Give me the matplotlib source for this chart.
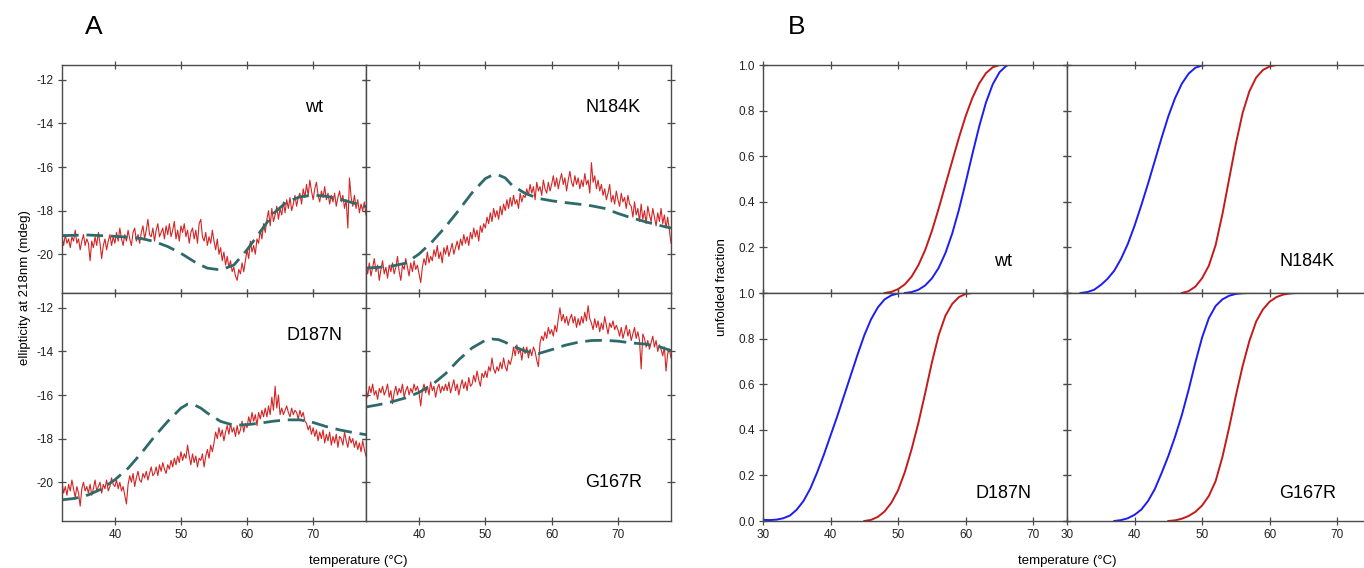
import numpy as np
import matplotlib
matplotlib.use("Agg")
import matplotlib.pyplot as plt

plt.rcParams['font.family'] = ['Liberation Sans', 'DejaVu Sans']
plt.rcParams['axes.unicode_minus'] = False

# ---------------- panel A : CD ellipticity at 218 nm ----------------
variants = ["wt", "N184K", "D187N", "G167R"]

# raw traces, 32..78 degC, evenly spaced
cd_wt = [
    -19.2, -19.6, -19.1, -19.5, -19.3, -19.7, -19.2, -19.4, -18.9, -19.5, -19.3, -19.8, -19.4, -19.1, -19.6, -19.3,
    -19.5, -20.3, -19.4, -19.7, -19.2, -19.6, -19.0, -19.5, -20.2, -19.6, -19.3, -19.8, -19.4, -19.1, -19.6, -19.2,
    -19.5, -19.0, -19.4, -18.8, -19.3, -19.6, -19.1, -19.4, -18.9, -19.3, -19.6, -19.0, -18.8, -19.4, -19.1, -19.5,
    -19.0, -18.7, -19.3, -18.9, -18.4, -19.1, -19.2, -18.8, -19.4, -18.9, -18.6, -19.2, -19.0, -18.8, -19.3, -18.7,
    -19.1, -18.6, -19.2, -18.9, -18.5, -19.3, -18.9, -19.4, -18.7, -19.0, -18.6, -19.2, -18.9, -19.5, -19.0, -18.8,
    -19.3, -18.9, -19.5, -18.6, -18.4, -19.2, -19.4, -19.0, -19.6, -19.2, -19.5, -18.9,
    -19.4, -19.8, -19.3, -20.0, -19.7, -20.3, -19.9, -20.5, -20.1, -20.6, -20.3, -20.8,
    -20.6, -21.0, -21.2, -20.7, -20.9, -20.4, -20.8, -20.3,
    -19.8, -20.2, -19.4, -19.9, -19.6, -20.0, -19.3, -19.5, -18.9, -19.3, -18.6, -19.0,
    -18.4, -18.0, -18.7, -17.9, -18.5, -18.2, -17.8, -18.4,
    -17.9, -18.2, -17.6, -18.1, -17.5, -17.9, -17.4, -18.0, -17.7, -17.3, -17.8, -17.4,
    -17.2, -17.7, -17.0, -17.4, -16.8, -17.3, -16.6, -17.1, -17.5, -17.0, -16.7, -17.3, -17.6, -17.1, -17.4, -16.9,
    -17.5, -17.2, -17.7, -17.3,
    -17.6, -17.2, -17.8, -17.4, -17.1, -17.6, -17.3, -17.9, -17.5, -18.8, -16.5, -17.4, -17.8, -17.3, -17.9, -17.5,
    -18.1, -17.7, -18.0, -17.6, -18.2,
]
cd_n184k = [
    -20.5, -20.9, -20.4, -21.0, -20.6, -20.2, -20.8, -20.5, -21.2, -20.7, -20.3, -20.9, -20.6, -21.1, -20.5, -20.8,
    -20.4, -20.9, -20.6, -20.1, -20.8, -21.2, -20.5, -20.7, -20.2, -20.6, -21.0, -20.4, -20.8, -20.3, -20.7, -20.5,
    -20.9, -21.3, -20.6, -20.2, -20.5, -19.9, -20.4, -20.1,
    -20.3, -19.8, -20.1, -19.6, -20.2, -19.9, -20.4, -19.7, -20.0, -19.6, -20.1, -19.8, -19.5, -20.0, -19.7, -19.4,
    -19.8, -19.3, -19.6, -19.1, -19.5, -19.2, -19.6, -19.0, -19.3, -18.8, -19.2, -18.9, -19.4, -18.7, -19.0, -18.6,
    -18.8, -18.3, -18.6, -18.1, -18.5, -17.9, -18.3, -18.0, -18.4, -17.8, -18.2, -17.7,
    -18.0, -17.5, -17.9, -17.4, -17.8, -17.3, -17.7, -17.5, -17.9, -17.2, -17.6, -17.3,
    -17.4, -17.0, -17.3, -16.8, -17.2, -16.9, -17.5, -16.7, -17.1, -16.9, -17.3, -16.6, -17.0, -17.2, -16.7, -17.1,
    -16.8, -16.4, -16.9, -16.5, -17.0, -16.6, -16.3, -16.8, -16.5, -17.1, -16.6, -16.2, -16.7, -16.9, -16.4, -16.8,
    -16.5, -17.0, -16.6, -16.9, -16.3, -16.8, -16.6, -17.2, -15.8, -16.7, -16.4, -17.0, -16.6, -17.1, -16.8, -17.3,
    -17.0, -17.5, -17.2, -16.8, -17.6, -17.3, -17.7, -17.1, -17.5, -17.8, -17.2, -17.6, -17.4, -17.9, -17.3, -17.7,
    -17.8, -18.3, -17.6, -18.2, -17.9, -18.5, -17.7, -18.4, -18.0, -18.6, -17.8, -18.2, -18.5, -17.9, -18.3, -18.7,
    -18.1, -18.5, -17.9, -18.6, -18.2, -18.8, -18.3, -18.9, -19.5,
]
cd_d187n = [
    -20.0, -20.5, -20.2, -20.6, -20.1, -20.4, -19.9, -20.3, -20.7, -20.2, -20.5, -21.1, -20.3, -20.0, -20.4, -20.2,
    -20.5, -20.1, -20.6, -20.3, -19.9, -20.4, -20.2, -20.0, -20.5, -20.1, -20.3, -19.9, -20.4, -20.2, -19.8, -20.1,
    -20.2, -19.9, -20.3, -20.0, -20.4, -20.2, -20.6, -21.0,
    -20.1, -19.7, -20.0, -19.6, -20.2, -19.8, -19.5, -19.9, -20.0, -19.6, -19.8, -19.5, -19.9, -19.6, -19.3, -19.7,
    -19.6, -19.3, -19.7, -19.2, -19.5, -19.1, -19.4, -19.6, -19.2, -19.4, -19.0, -19.3, -18.9, -19.2, -18.8, -19.1,
    -18.6, -19.0, -18.7, -18.9, -18.3, -18.8, -19.2, -18.7, -19.1, -18.8, -19.3, -18.9,
    -19.0, -18.7, -19.3, -18.8, -18.5, -18.9, -18.3, -18.6,
    -18.2, -17.7, -18.0, -17.5, -17.9, -17.6, -18.1, -17.7,
    -17.4, -17.8, -17.3, -17.7, -17.5, -17.9, -17.4, -17.8, -17.6, -17.2, -17.7, -17.3,
    -17.5, -17.0, -17.3, -16.8, -17.2, -16.9, -17.4, -16.8, -17.1, -16.7, -17.0, -16.6,
    -17.0, -16.5, -16.9, -16.1, -16.7, -15.6, -16.6, -16.0,
    -16.9, -16.6, -16.9, -16.7, -16.5, -16.8, -17.0, -16.6, -16.9, -16.7, -16.8, -17.1, -16.7, -17.0, -16.8, -17.2,
    -17.3, -17.6, -17.4, -17.8, -17.5, -17.9, -17.6, -18.1, -17.7, -18.0, -17.6, -18.2,
    -17.8, -18.1, -17.7, -18.3, -17.9, -18.2, -17.8, -18.4, -17.9, -18.0, -18.3, -17.7, -18.1, -18.4, -17.9, -18.2,
    -18.0, -18.4, -18.1, -18.5, -18.2, -18.6, -18.1, -18.5, -18.8,
]
cd_g167r = [
    -15.7, -16.1, -15.6, -15.9, -15.5, -16.0, -15.8, -16.2, -15.7, -15.9, -15.6, -16.0, -15.8, -15.5, -16.1, -15.8,
    -16.4, -15.9, -15.6, -16.0, -15.7, -15.9, -15.5, -16.1, -15.8, -15.6, -16.0, -15.7, -15.9, -15.5, -15.8, -15.6,
    -15.9, -16.5, -15.8, -15.5, -15.9, -15.6, -16.0, -15.4, -15.8, -15.6, -16.1, -15.7, -15.5, -15.9, -15.6, -15.8,
    -15.5, -15.8, -15.4, -15.9, -15.6, -15.3, -15.8, -15.5, -16.0, -15.6, -15.3, -15.7, -15.4, -15.8, -15.2, -15.6,
    -15.5, -15.1, -15.4, -14.9, -15.3, -15.6, -15.0, -15.2,
    -14.9, -15.2, -14.7, -14.9, -14.3, -14.8, -15.0, -14.7,
    -14.9, -14.5, -14.8, -14.3, -14.7, -14.9, -14.4, -14.6,
    -14.3, -13.8, -14.2, -13.7, -14.1, -13.9, -14.4, -13.8,
    -14.1, -13.8, -14.3, -13.9, -14.2, -13.8, -14.0, -14.4,
    -14.7, -13.6, -13.3, -13.5, -13.1, -13.4, -12.9, -13.2, -13.0, -13.3, -12.8, -13.1,
    -12.5, -12.0, -12.6, -12.3, -12.7, -12.4, -12.8, -12.5,
    -12.3, -12.7, -12.4, -12.9, -12.5, -12.8, -12.4, -12.7, -12.2, -12.6, -11.9, -12.5,
    -12.7, -13.0, -12.5, -12.9, -12.6, -13.1, -12.7, -13.0, -12.4, -12.8, -13.2, -12.7, -12.9, -12.6, -13.0, -12.8,
    -13.0, -13.3, -12.9, -13.4, -13.1, -12.8, -13.3, -13.0, -13.5, -13.2, -12.9, -13.4, -13.1, -13.5, -14.8, -13.2,
    -13.4, -13.8, -13.5, -13.9, -13.6, -13.3, -13.8, -13.5, -14.0, -13.7, -13.9, -14.2, -13.8, -14.9, -14.1, -13.9,
    -14.3,
]

# fitted curves (dashed)
fit_temp = [32, 34, 36, 38, 40, 42, 44, 46, 48, 50, 51, 52, 53, 54, 56, 58, 60, 62, 64, 66, 68, 70, 72, 74, 76, 78]
fit_wt = [-19.15, -19.13, -19.12, -19.15, -19.18, -19.22, -19.28, -19.42, -19.65, -19.96, -20.15, -20.34, -20.5,
          -20.64, -20.72, -20.5, -19.8, -18.97, -18.13, -17.6, -17.37, -17.29, -17.34, -17.47, -17.64, -17.82]
fit_n184k = [-20.64, -20.6, -20.54, -20.41, -19.99, -19.42, -18.74, -17.98, -17.18, -16.53, -16.38, -16.37, -16.5,
             -16.83, -17.21, -17.44, -17.55, -17.63, -17.7, -17.78, -17.9, -18.13, -18.33, -18.5, -18.66, -18.8]
fit_d187n = [-20.81, -20.74, -20.58, -20.31, -19.89, -19.36, -18.67, -17.9, -17.21, -16.6, -16.42, -16.45, -16.6,
             -16.83, -17.21, -17.39, -17.36, -17.29, -17.2, -17.14, -17.14, -17.26, -17.45, -17.6, -17.72, -17.82]
fit_g167r = [-16.55, -16.44, -16.3, -16.13, -15.88, -15.52, -15.02, -14.38, -13.84, -13.49, -13.43, -13.46, -13.58,
             -13.73, -13.99, -14.1, -13.92, -13.72, -13.58, -13.5, -13.49, -13.53, -13.61, -13.66, -13.76, -13.96]

# ---------------- panel B : unfolded fraction ----------------
uf_wt_red_t = [48, 49, 50, 51, 52, 53, 54, 55, 56, 57, 58, 59, 60, 61, 62, 63, 64, 65]
uf_wt_red = [0.0, 0.005, 0.017, 0.038, 0.072, 0.122, 0.188, 0.272, 0.37, 0.474, 0.578, 0.681, 0.776, 0.856,
             0.919, 0.964, 0.99, 1.0]
uf_wt_blue_t = [51, 52, 53, 54, 55, 56, 57, 58, 59, 60, 61, 62, 63, 64, 65, 66, 66.3]
uf_wt_blue = [0.0, 0.004, 0.014, 0.033, 0.064, 0.11, 0.175, 0.26, 0.365, 0.485, 0.61, 0.73, 0.835, 0.915,
              0.968, 0.996, 1.0]

uf_n184k_red_t = [47, 48, 49, 50, 51, 52, 53, 54, 55, 56, 57, 58, 59, 60, 61]
uf_n184k_red = [0.0, 0.008, 0.028, 0.065, 0.12, 0.21, 0.345, 0.5, 0.655, 0.79, 0.885, 0.945, 0.978, 0.994, 1.0]
uf_n184k_blue_t = [32, 33, 34, 35, 36, 37, 38, 39, 40, 41, 42, 43, 44, 45, 46, 47, 48, 49, 50, 50.7]
uf_n184k_blue = [0.0, 0.004, 0.014, 0.035, 0.062, 0.098, 0.15, 0.215, 0.295, 0.385, 0.48, 0.58, 0.68, 0.775,
                 0.855, 0.918, 0.962, 0.988, 0.998, 1.0]

uf_d187n_red_t = [45, 46, 47, 48, 49, 50, 51, 52, 53, 54, 55, 56, 57, 58, 59, 60, 61]
uf_d187n_red = [0.0, 0.005, 0.018, 0.042, 0.08, 0.135, 0.215, 0.315, 0.43, 0.56, 0.695, 0.815, 0.9, 0.952,
                0.982, 0.996, 1.0]
uf_d187n_blue_t = [30, 31, 32, 33, 34, 35, 36, 37, 38, 39, 40, 41, 42, 43, 44, 45, 46, 47, 48, 49, 50, 50.3]
uf_d187n_blue = [0.005, 0.004, 0.006, 0.012, 0.024, 0.05, 0.088, 0.142, 0.212, 0.29, 0.375, 0.46, 0.55, 0.64,
                 0.73, 0.815, 0.885, 0.937, 0.972, 0.99, 0.998, 1.0]

uf_g167r_red_t = [45, 46, 47, 48, 49, 50, 51, 52, 53, 54, 55, 56, 57, 58, 59, 60, 61, 62, 63, 64]
uf_g167r_red = [0.0, 0.003, 0.01, 0.022, 0.04, 0.068, 0.11, 0.175, 0.28, 0.41, 0.55, 0.68, 0.79, 0.875,
                0.928, 0.962, 0.982, 0.993, 0.998, 1.0]
uf_g167r_blue_t = [37, 38, 39, 40, 41, 42, 43, 44, 45, 46, 47, 48, 49, 50, 51, 52, 53, 54, 55, 56, 57]
uf_g167r_blue = [0.0, 0.004, 0.012, 0.027, 0.05, 0.088, 0.14, 0.21, 0.285, 0.37, 0.465, 0.575, 0.695, 0.805,
                 0.89, 0.943, 0.972, 0.988, 0.996, 0.999, 1.0]

cd_traces = [cd_wt, cd_n184k, cd_d187n, cd_g167r]
cd_fits = [fit_wt, fit_n184k, fit_d187n, fit_g167r]
uf_red = [(uf_wt_red_t, uf_wt_red), (uf_n184k_red_t, uf_n184k_red),
          (uf_d187n_red_t, uf_d187n_red), (uf_g167r_red_t, uf_g167r_red)]
uf_blue = [(uf_wt_blue_t, uf_wt_blue), (uf_n184k_blue_t, uf_n184k_blue),
           (uf_d187n_blue_t, uf_d187n_blue), (uf_g167r_blue_t, uf_g167r_blue)]

RED_RAW = '#d42424'
TEAL = '#2e6a6a'
RED_B = '#c41a1a'
BLUE_B = '#1c1cf5'
SPINE = '#4a4a4a'

W, H = 1364, 568
fig = plt.figure(figsize=(W / 100, H / 100), dpi=100)


def px_axes(x0, y0, x1, y1):
    # pixel box (top-left origin) -> figure axes
    return fig.add_axes([x0 / W, 1 - y1 / H, (x1 - x0) / W, (y1 - y0) / H])


def style(ax):
    for s in ax.spines.values():
        s.set_color(SPINE)
        s.set_linewidth(1.0)
    ax.tick_params(direction='inout', length=6, width=0.9, color=SPINE,
                   labelsize=8.5, labelcolor='#222222', pad=3,
                   top=True, right=True)


xa = [62, 366, 671]
xb = [763, 1067, 1371]
ys = [65, 293, 521]

# panel A
for k in range(4):
    r, c = divmod(k, 2)
    ax = px_axes(xa[c], ys[r], xa[c + 1], ys[r + 1])
    style(ax)
    trace = cd_traces[k]
    temp = np.linspace(32, 78, len(trace))
    ax.plot(temp, trace, color=RED_RAW, lw=0.8)
    ax.plot(fit_temp, cd_fits[k], color=TEAL, lw=2.0, dashes=(6, 2.8))
    ax.set_xlim(32, 78)
    ax.set_ylim(-21.78, -11.32)
    ax.set_xticks([40, 50, 60, 70])
    ax.set_yticks([-20, -18, -16, -14, -12])
    if r == 0:
        ax.set_xticklabels([])
    if c == 1:
        ax.set_yticklabels([])
    if k == 3:
        tx, ty = 0.813, 0.17
    else:
        tx, ty = (0.83 if c == 0 else 0.81), 0.815
    ax.text(tx, ty, variants[k], transform=ax.transAxes, ha='center', va='center', fontsize=13)

# panel B
for k in range(4):
    r, c = divmod(k, 2)
    ax = px_axes(xb[c], ys[r], xb[c + 1], ys[r + 1])
    style(ax)
    ax.plot(uf_red[k][0], uf_red[k][1], color=RED_B, lw=1.4)
    ax.plot(uf_blue[k][0], uf_blue[k][1], color=BLUE_B, lw=1.4)
    ax.set_xlim(30, 75)
    ax.set_ylim(0, 1)
    ax.set_xticks([30, 40, 50, 60, 70])
    ax.set_yticks([0.0, 0.2, 0.4, 0.6, 0.8, 1.0])
    ax.set_yticklabels(['0.0', '0.2', '0.4', '0.6', '0.8', '1.0'])
    if r == 0:
        ax.set_xticklabels([])
        if c == 0:
            ax.set_yticklabels(['', '0.2', '0.4', '0.6', '0.8', '1.0'])
    if c == 1:
        ax.set_yticklabels([])
    ax.text(0.79, 0.14 if r == 0 else 0.12, variants[k], transform=ax.transAxes,
            ha='center', va='center', fontsize=13)

fig.text(25 / W, 1 - 288 / H, 'ellipticity at 218nm (mdeg)', rotation=90,
         ha='center', va='center', fontsize=9.5)
fig.text(722 / W, 1 - 287 / H, 'unfolded fraction', rotation=90,
         ha='center', va='center', fontsize=9.5)
fig.text(358 / W, 1 - 561 / H, 'temperature (°C)', ha='center', va='center', fontsize=9.5)
fig.text(1067 / W, 1 - 561 / H, 'temperature (°C)', ha='center', va='center', fontsize=9.5)
fig.text(94 / W, 1 - 27 / H, 'A', ha='center', va='center', fontsize=19)
fig.text(797 / W, 1 - 27 / H, 'B', ha='center', va='center', fontsize=19)

fig.savefig('out.png', dpi=100)
